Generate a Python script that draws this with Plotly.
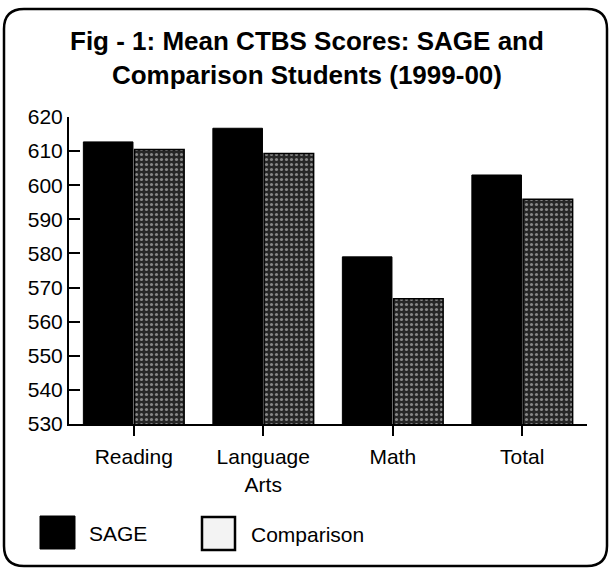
import plotly.graph_objects as go

categories = ["Reading", "Language<br>Arts", "Math", "Total"]
series_names = ["SAGE", "Comparison"]
sage_values = [612.7, 616.7, 579.0, 603.0]
comparison_values = [610.5, 609.3, 566.7, 595.9]
y_ticks = [530, 540, 550, 560, 570, 580, 590, 600, 610, 620]
title_text = "Fig - 1: Mean CTBS Scores: SAGE and<br>Comparison Students (1999-00)"

W, H = 609, 570
ML, MR, MT, MB = 69, 22, 117, 146
PW, PH = W - ML - MR, H - MT - MB


def px(x):
    return (x - ML) / PW


def py(y):
    return (H - MB - y) / PH


FONT = "Liberation Sans, Arial, sans-serif"

fig = go.Figure()
fig.add_trace(go.Bar(
    x=categories, y=sage_values, name=series_names[0],
    marker=dict(color="#000000", line=dict(color="#000000", width=1)),
))
fig.add_trace(go.Bar(
    x=categories, y=comparison_values, name=series_names[1],
    marker=dict(
        color="#262626",
        line=dict(color="#000000", width=1.5),
        pattern=dict(shape=".", bgcolor="#262626", fgcolor="#e8e8e8",
                     size=5, solidity=0.3, fillmode="overlay"),
    ),
))

# rounded frame
x0, x1, y0, y1, r = px(4), px(607), py(9), py(566), 20
rx, ry = r / PW, r / PH
path = (f"M {x0+rx},{y0} L {x1-rx},{y0} Q {x1},{y0} {x1},{y0-ry} "
        f"L {x1},{y1+ry} Q {x1},{y1} {x1-rx},{y1} "
        f"L {x0+rx},{y1} Q {x0},{y1} {x0},{y1+ry} "
        f"L {x0},{y0-ry} Q {x0},{y0} {x0+rx},{y0} Z")
shapes = [dict(type="path", path=path, xref="paper", yref="paper",
               line=dict(color="#000000", width=2.5), layer="below")]

# legend swatches
shapes.append(dict(type="rect", xref="paper", yref="paper",
                   x0=px(40), x1=px(75), y0=py(516), y1=py(549),
                   fillcolor="#000000", line=dict(color="#000000", width=1)))
shapes.append(dict(type="rect", xref="paper", yref="paper",
                   x0=px(202), x1=px(235), y0=py(517), y1=py(550),
                   fillcolor="#f3f3f3", line=dict(color="#000000", width=2.5)))

title_html = "<b>" + title_text.replace("<br>", "</b><br><b>") + "</b>"
annotations = [
    dict(text=title_html, xref="paper", yref="paper", x=px(307), y=py(24),
         xanchor="center", yanchor="top", showarrow=False,
         font=dict(family=FONT, size=26, color="#000000"),
         align="center"),
    dict(text=series_names[0], xref="paper", yref="paper", x=px(87), y=py(533),
         xanchor="left", yanchor="middle", showarrow=False,
         font=dict(family=FONT, size=21, color="#000000")),
    dict(text=series_names[1], xref="paper", yref="paper", x=px(249), y=py(534),
         xanchor="left", yanchor="middle", showarrow=False,
         font=dict(family=FONT, size=21, color="#000000")),
]

fig.update_layout(
    width=W, height=H,
    margin=dict(l=ML, r=MR, t=MT, b=MB, pad=0),
    paper_bgcolor="#ffffff", plot_bgcolor="#ffffff",
    barmode="group", bargap=0.21, bargroupgap=0.03,
    showlegend=False,
    font=dict(family=FONT, size=21, color="#000000"),
    shapes=shapes, annotations=annotations,
)
fig.update_xaxes(
    showline=True, linecolor="#000000", linewidth=2,
    ticks="outside", ticklen=10, tickwidth=2, tickcolor="#000000",
    showgrid=False, zeroline=False,
    tickfont=dict(family=FONT, size=21, color="#000000"),
    ticklabelstandoff=3,
    range=[-0.5, 3.5],
)
fig.update_yaxes(
    range=[530, 620], tickvals=y_ticks,
    showline=True, linecolor="#000000", linewidth=2,
    ticks="inside", ticklen=11, tickwidth=2, tickcolor="#000000",
    showgrid=False, zeroline=False,
    tickfont=dict(family=FONT, size=21, color="#000000"),
)

fig.write_html(
    "out.html",
    config={"displayModeBar": False},
    post_script="document.body.style.margin='0';document.body.style.overflow='hidden';",
)
